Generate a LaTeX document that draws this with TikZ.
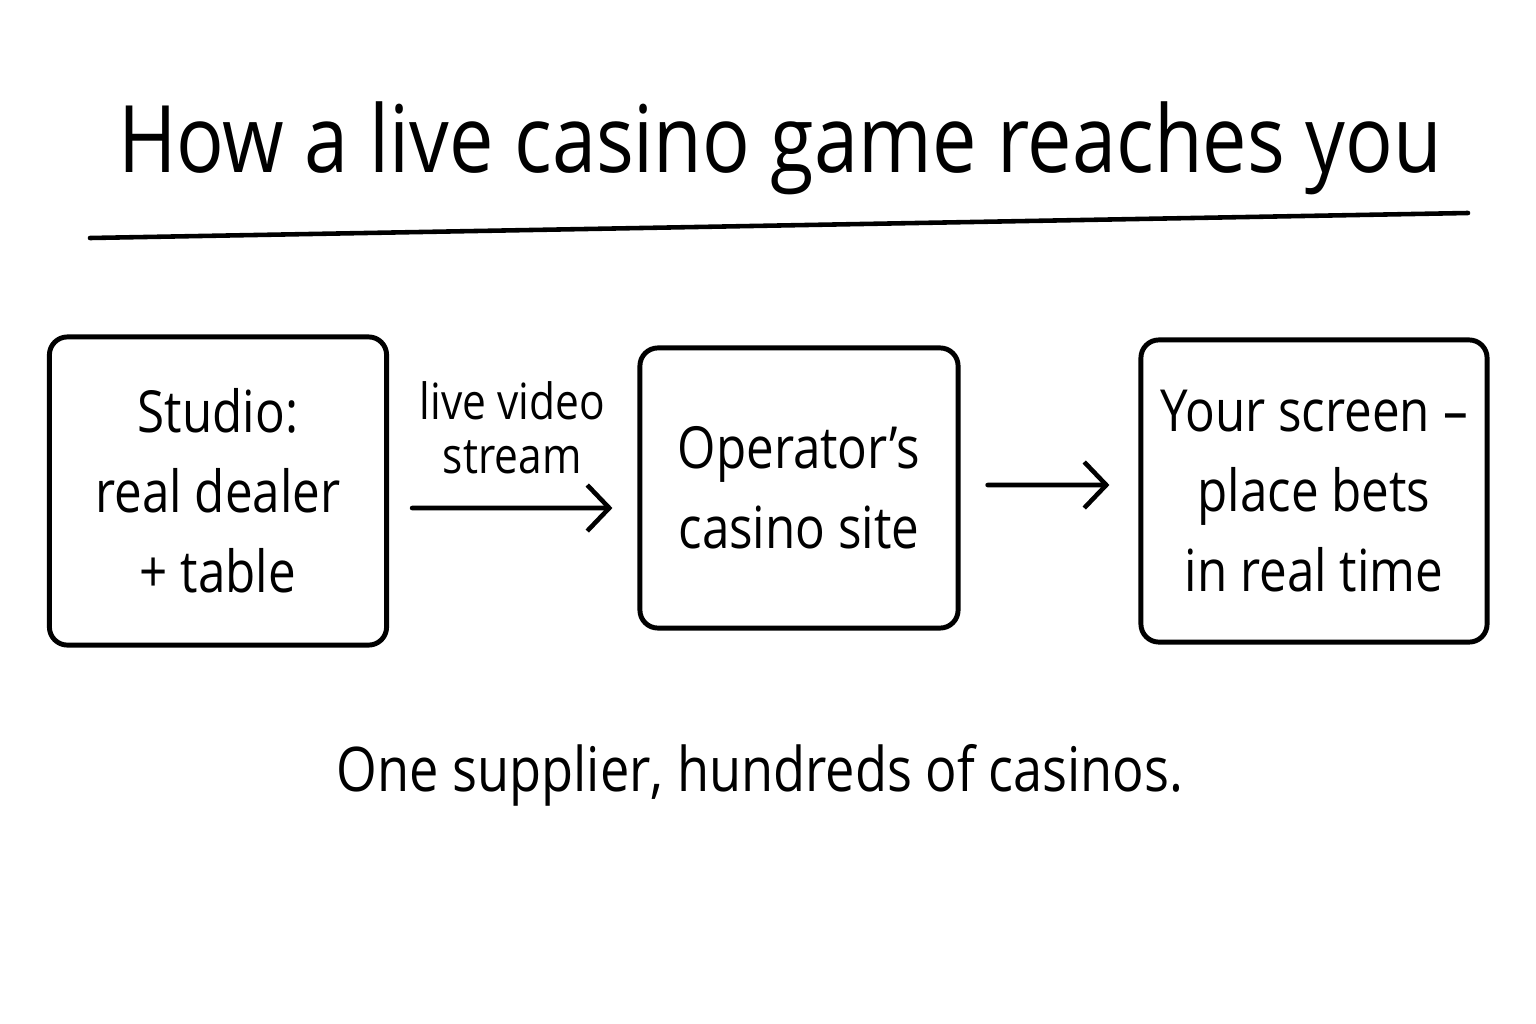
\documentclass[tikz,border=0pt]{standalone}
\usepackage{fontspec}
\setmainfont{Open Sans}[FakeStretch=0.85]
\usetikzlibrary{arrows.meta, positioning}

\tikzset{
    stagebox/.style={draw, line width=1.4pt, rounded corners=0.18cm, align=center,
        inner sep=0pt, font=\fontsize{16.5}{22.8}\selectfont},
    flow/.style={->, line width=1.3pt},
    note/.style={align=center, font=\fontsize{14.2}{15.5}\selectfont},
}

\begin{document}
\begin{tikzpicture}[x=0.01cm, y=-0.01cm, >={Straight Barb[length=2.2mm, width=4.6mm]}, line cap=round, line join=round]
        \useasboundingbox (0,0) rectangle (1536,1024);
        % Title
        \node (title) at (780,148) {\fontsize{26.5}{30}\selectfont How a live casino game reaches you};
        \draw[line width=1.3pt] (90,238) -- (1468,213);
        % Stages
        \node[stagebox, minimum width=3.37cm, minimum height=3.08cm] (studio) at (218,491) {Studio:\\real dealer\\+ table};
        \node[stagebox, minimum width=3.18cm, minimum height=2.80cm] (site) at (799,488) {Operator's\\casino site};
        \node[stagebox, minimum width=3.46cm, minimum height=3.02cm] (screen) at (1314,491) {Your screen --\\place bets\\in real time};
        % Arrows
        \draw[flow] ([xshift=0.23cm, yshift=-0.17cm]studio.east) -- ([xshift=-0.25cm, yshift=-0.20cm]site.west)
            node[note, midway, above=0.2cm] (stream) {live video\\stream};
        \draw[flow] ([xshift=0.27cm, yshift=0.03cm]site.east) -- ([xshift=-0.29cm, yshift=0.06cm]screen.west);
        % Footer
        \node (footer) at (760,775) {\fontsize{17.5}{22}\selectfont One supplier, hundreds of casinos.};
    \end{tikzpicture}
\end{document}
